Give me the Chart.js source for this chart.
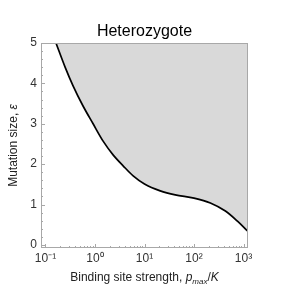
<!DOCTYPE html>
<html>
<head>
<meta charset="utf-8">
<script src="https://cdn.jsdelivr.net/npm/chart.js@4"></script>
<style>
  html, body { margin: 0; padding: 0; background: #fff; }
  #wrap { width: 290px; height: 293px; }
</style>
</head>
<body>
<div id="wrap"><canvas id="chart" width="290" height="293"></canvas></div>
<script>
// boundary curve (x = p_max/K, y = mutation size)
const curveX = [0.163, 0.248, 0.361, 0.574, 0.916, 1.46, 2.32, 3.7, 5.9, 10, 20.8, 41.8, 100, 214, 430, 753, 1200];
const curveY = [5.0, 4.41, 3.94, 3.44, 3.0, 2.57, 2.23, 1.96, 1.71, 1.51, 1.34, 1.24, 1.16, 1.04, 0.84, 0.59, 0.35];

const xTickValues = [0.1, 1, 10, 100, 1000];
const xTickLabels = ['10\u207B\u00B9', '10\u2070', '10\u00B9', '10\u00B2', '10\u00B3'];
const yTickValues = [0, 1, 2, 3, 4, 5];

const chartTitle = 'Heterozygote';
const font = "'Liberation Sans', Arial, sans-serif";
const frameColor = '#a8a8a8';

// title, frame, inward ticks and axis titles
const framePlugin = {
    id: 'frame',
    afterDatasetsDraw(chart) {
        const { ctx, chartArea: a, scales } = chart;
        const xs = scales.x, ys = scales.y;
        ctx.save();
        ctx.strokeStyle = frameColor;
        ctx.lineWidth = 1;
        ctx.strokeRect(a.left + 0.5, a.top + 0.5, a.right - a.left - 1, a.bottom - a.top - 1);

        ctx.beginPath();
        // x ticks, majors and minors
        for (let k = -1; k <= 3; k++) {
            for (let m = 1; m <= 9; m++) {
                const v = m * Math.pow(10, k);
                const px = xs.getPixelForValue(v);
                if (px < a.left || px > a.right) continue;
                const len = m === 1 ? 4 : 2;
                ctx.moveTo(Math.round(px) + 0.5, a.bottom);
                ctx.lineTo(Math.round(px) + 0.5, a.bottom - len);
            }
        }
        // y ticks
        for (let i = 0; i <= 25; i++) {
            const v = i * 0.2;
            const py = ys.getPixelForValue(v);
            const len = i % 5 === 0 ? 4 : 2;
            ctx.moveTo(a.left, Math.round(py) + 0.5);
            ctx.lineTo(a.left + len, Math.round(py) + 0.5);
        }
        ctx.stroke();

        // title
        ctx.fillStyle = '#000';
        ctx.textAlign = 'center';
        ctx.textBaseline = 'alphabetic';
        ctx.font = '16px ' + font;
        ctx.fillText(chartTitle, (a.left + a.right) / 2, 36);

        // x axis title
        ctx.textAlign = 'left';
        ctx.fillStyle = '#222';
        const parts = [
            { t: 'Binding site strength, ', f: '12px ' + font, dy: 0 },
            { t: 'p', f: 'italic 12px ' + font, dy: 0 },
            { t: 'max', f: 'italic 8px ' + font, dy: 3 },
            { t: '/', f: '12px ' + font, dy: 0 },
            { t: 'K', f: 'italic 12px ' + font, dy: 0 }
        ];
        let total = 0;
        parts.forEach(p => { ctx.font = p.f; total += ctx.measureText(p.t).width; });
        let x = (a.left + a.right) / 2 - total / 2;
        const base = 281;
        parts.forEach(p => {
            ctx.font = p.f;
            ctx.fillText(p.t, x, base + p.dy);
            x += ctx.measureText(p.t).width;
        });

        // y axis title
        ctx.translate(17, (a.top + a.bottom) / 2);
        ctx.rotate(-Math.PI / 2);
        const yparts = [
            { t: 'Mutation size, ', f: '12px ' + font },
            { t: '\u03B5', f: 'italic 12px ' + font }
        ];
        total = 0;
        yparts.forEach(p => { ctx.font = p.f; total += ctx.measureText(p.t).width; });
        x = -total / 2;
        yparts.forEach(p => {
            ctx.font = p.f;
            ctx.fillText(p.t, x, 0);
            x += ctx.measureText(p.t).width;
        });
        ctx.restore();
    }
};

const ctx = document.getElementById('chart').getContext('2d');
new Chart(ctx, {
    type: 'line',
    data: {
        datasets: [{
            data: curveX.map((x, i) => ({ x: x, y: curveY[i] })),
            borderColor: '#000',
            borderWidth: 1.7,
            backgroundColor: '#d9d9d9',
            fill: 'end',
            pointRadius: 0,
            cubicInterpolationMode: 'monotone'
        }]
    },
    options: {
        responsive: false,
        animation: false,
        layout: { padding: { left: 0, right: 42, top: 43, bottom: 0 } },
        plugins: {
            legend: { display: false },
            tooltip: { enabled: false },
            title: { display: false }
        },
        scales: {
            x: {
                type: 'logarithmic',
                min: Math.pow(10, -1.09),
                max: Math.pow(10, 3.09),
                grid: { display: false, drawTicks: false },
                border: { display: false },
                afterBuildTicks: s => { s.ticks = xTickValues.map(v => ({ value: v })); },
                afterFit: s => { s.height = 45; },
                ticks: {
                    padding: 3,
                    maxRotation: 0,
                    autoSkip: false,
                    color: '#333',
                    font: { family: font, size: 12 },
                    callback: (v) => {
                        const i = xTickValues.indexOf(v);
                        return i >= 0 ? xTickLabels[i] : '';
                    }
                }
            },
            y: {
                min: -0.075,
                max: 5,
                grid: { display: false, drawTicks: false },
                border: { display: false },
                afterBuildTicks: s => { s.ticks = yTickValues.map(v => ({ value: v })); },
                afterFit: s => { s.width = 41; },
                ticks: {
                    padding: 4,
                    color: '#333',
                    font: { family: font, size: 12 },
                    callback: v => String(v)
                }
            }
        }
    },
    plugins: [framePlugin]
});
</script>
</body>
</html>
